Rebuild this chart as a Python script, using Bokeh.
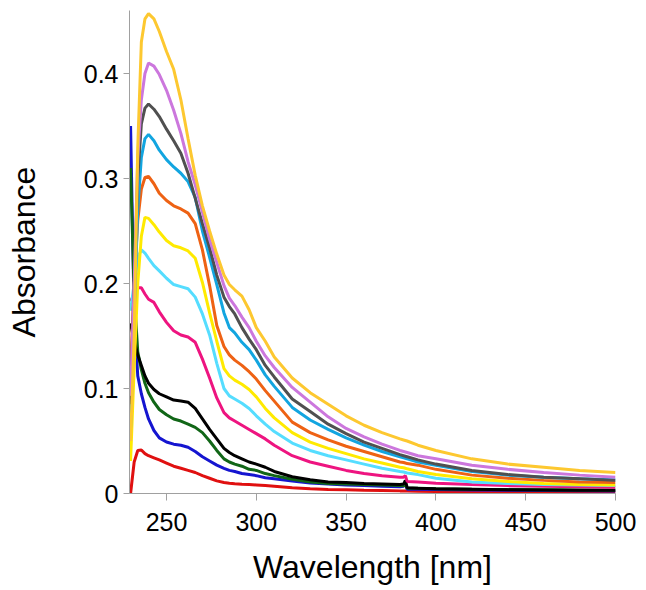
from bokeh.plotting import figure
from bokeh.models import ColumnDataSource, FixedTicker, Range1d
from bokeh.embed import file_html
from bokeh.resources import INLINE

# Wavelength grid (nm)
wavelength = [230, 232, 234, 236, 238, 240, 243, 246, 250, 254, 258, 262, 266, 270, 274, 278,
              282, 285, 288, 292, 296, 300, 305, 310, 320, 330, 340, 350, 360, 370, 380, 382,
              383, 384, 390, 400, 420, 440, 460, 480, 500]

gold = [0.05, 0.15, 0.33, 0.43, 0.452, 0.457, 0.452, 0.440, 0.421, 0.404, 0.375, 0.338, 0.303,
        0.274, 0.250, 0.228, 0.208, 0.199, 0.194, 0.188, 0.175, 0.158, 0.145, 0.130, 0.110,
        0.096, 0.085, 0.074, 0.065, 0.058, 0.052, 0.051, 0.0505, 0.050, 0.046, 0.041, 0.033,
        0.028, 0.025, 0.022, 0.020]
violet = [0.093, 0.20, 0.32, 0.375, 0.400, 0.410, 0.407, 0.399, 0.384, 0.365, 0.343, 0.316,
          0.294, 0.268, 0.242, 0.220, 0.198, 0.186, 0.179, 0.168, 0.158, 0.145, 0.131, 0.120,
          0.101, 0.087, 0.073, 0.062, 0.054, 0.047, 0.041, 0.040, 0.0395, 0.039, 0.036, 0.033,
          0.027, 0.023, 0.020, 0.0175, 0.0155]
gray = [0.085, 0.20, 0.30, 0.352, 0.367, 0.371, 0.366, 0.359, 0.347, 0.336, 0.324, 0.305,
        0.281, 0.257, 0.234, 0.208, 0.187, 0.178, 0.171, 0.158, 0.147, 0.137, 0.122, 0.111,
        0.090, 0.078, 0.066, 0.057, 0.049, 0.043, 0.037, 0.036, 0.0355, 0.035, 0.032, 0.028,
        0.022, 0.018, 0.0155, 0.014, 0.0125]
skyblue = [0.063, 0.17, 0.27, 0.32, 0.338, 0.342, 0.336, 0.327, 0.318, 0.311, 0.305, 0.297,
           0.282, 0.250, 0.225, 0.199, 0.172, 0.158, 0.153, 0.144, 0.137, 0.127, 0.113, 0.102,
           0.082, 0.070, 0.061, 0.053, 0.046, 0.040, 0.035, 0.034, 0.0335, 0.033, 0.030, 0.027,
           0.021, 0.0175, 0.0155, 0.014, 0.013]
orange = [0.12, 0.20, 0.26, 0.29, 0.301, 0.302, 0.295, 0.286, 0.279, 0.274, 0.271, 0.267,
          0.257, 0.232, 0.198, 0.160, 0.140, 0.132, 0.127, 0.122, 0.116, 0.109, 0.098, 0.088,
          0.068, 0.058, 0.051, 0.045, 0.040, 0.035, 0.030, 0.0295, 0.029, 0.0285, 0.027, 0.023,
          0.0175, 0.0145, 0.0125, 0.011, 0.0105]
yellow = [0.031, 0.12, 0.20, 0.245, 0.263, 0.262, 0.256, 0.249, 0.241, 0.236, 0.234, 0.231,
          0.224, 0.201, 0.172, 0.145, 0.119, 0.112, 0.108, 0.104, 0.099, 0.092, 0.081, 0.072,
          0.058, 0.049, 0.043, 0.038, 0.033, 0.029, 0.025, 0.0245, 0.024, 0.0235, 0.021, 0.018,
          0.014, 0.0115, 0.0095, 0.0085, 0.008]
cyan = [0.174, 0.20, 0.225, 0.232, 0.229, 0.224, 0.217, 0.212, 0.205, 0.199, 0.197, 0.195,
        0.187, 0.171, 0.151, 0.124, 0.100, 0.093, 0.090, 0.086, 0.081, 0.074, 0.066, 0.059,
        0.048, 0.041, 0.036, 0.032, 0.028, 0.024, 0.021, 0.0205, 0.020, 0.0195, 0.018, 0.0145,
        0.011, 0.0095, 0.0085, 0.008, 0.0075]
pink = [0.183, 0.19, 0.196, 0.196, 0.190, 0.185, 0.182, 0.173, 0.163, 0.155, 0.151, 0.149,
        0.144, 0.128, 0.110, 0.091, 0.077, 0.072, 0.069, 0.065, 0.061, 0.057, 0.052, 0.046,
        0.036, 0.030, 0.026, 0.022, 0.019, 0.017, 0.0155, 0.0155, 0.017, 0.0115, 0.011, 0.0098,
        0.0085, 0.0075, 0.007, 0.0065, 0.006]
black = [0.162, 0.145, 0.132, 0.122, 0.112, 0.105, 0.099, 0.095, 0.092, 0.089, 0.088, 0.087,
         0.081, 0.071, 0.061, 0.052, 0.043, 0.039, 0.036, 0.033, 0.030, 0.028, 0.025, 0.021,
         0.016, 0.013, 0.011, 0.0105, 0.0095, 0.009, 0.0085, 0.009, 0.0125, 0.0055, 0.005,
         0.0045, 0.004, 0.0035, 0.0033, 0.003, 0.003]
green = [0.31, 0.19, 0.135, 0.118, 0.105, 0.096, 0.087, 0.080, 0.075, 0.071, 0.069, 0.066,
         0.063, 0.058, 0.050, 0.041, 0.033, 0.030, 0.028, 0.026, 0.023, 0.022, 0.019, 0.017,
         0.0135, 0.011, 0.0095, 0.009, 0.0085, 0.008, 0.0075, 0.0075, 0.008, 0.005, 0.005,
         0.0045, 0.004, 0.0037, 0.0035, 0.0033, 0.003]
blue = [0.35, 0.17, 0.112, 0.095, 0.082, 0.071, 0.060, 0.053, 0.049, 0.047, 0.046, 0.044,
        0.040, 0.035, 0.031, 0.027, 0.024, 0.022, 0.021, 0.019, 0.018, 0.017, 0.015, 0.014,
        0.012, 0.010, 0.009, 0.008, 0.0075, 0.007, 0.0065, 0.007, 0.009, 0.004, 0.004,
        0.0037, 0.0033, 0.003, 0.0028, 0.0026, 0.0025]
red = [0.0, 0.03, 0.041, 0.0415, 0.038, 0.036, 0.034, 0.032, 0.029, 0.026, 0.024, 0.022,
       0.020, 0.017, 0.0145, 0.012, 0.0105, 0.0098, 0.0093, 0.0088, 0.0085, 0.0082, 0.0077,
       0.007, 0.0055, 0.0045, 0.0038, 0.0035, 0.003, 0.0028, 0.0025, 0.0025, 0.0024, 0.0023,
       0.0022, 0.002, 0.0017, 0.0015, 0.0013, 0.0012, 0.0011]

series_names = ["red", "blue", "green", "black", "pink", "cyan", "yellow", "orange",
                "skyblue", "gray", "violet", "gold"]
series_colors = ["#E01010", "#1515D0", "#116617", "#000000", "#EE1480", "#55DDFF",
                 "#FFEA00", "#EE6214", "#12A5E0", "#505050", "#CC77DD", "#FDC830"]

x_ticks = [250, 300, 350, 400, 450, 500]
y_ticks = [0, 0.1, 0.2, 0.3, 0.4]
y_tick_labels = ["0", "0.1", "0.2", "0.3", "0.4"]

source = ColumnDataSource(dict(wavelength=wavelength, gold=gold, violet=violet, gray=gray,
                               skyblue=skyblue, orange=orange, yellow=yellow, cyan=cyan,
                               pink=pink, black=black, green=green, blue=blue, red=red))

p = figure(width=640, height=589, x_range=Range1d(229.4, 500), y_range=Range1d(0, 0.46),
           output_backend="svg", toolbar_location=None,
           min_border_left=129, min_border_right=25, min_border_top=10, min_border_bottom=96)
p.outline_line_color = None
p.grid.visible = False
p.background_fill_color = "white"
p.border_fill_color = "white"

for name, col in zip(series_names, series_colors):
    p.line("wavelength", name, source=source, line_color=col, line_width=3)

FONT = "Liberation Sans"
for ax in (p.xaxis[0], p.yaxis[0]):
    ax.axis_line_color = "#A0A0A0"
    ax.axis_line_width = 1
    ax.major_tick_line_color = "#A0A0A0"
    ax.major_tick_in = 0
    ax.minor_tick_line_color = None
    ax.major_label_text_font = FONT
    ax.major_label_text_color = "black"
    ax.major_label_text_font_size = "25px"
    ax.axis_label_text_font = FONT
    ax.axis_label_text_font_style = "normal"
    ax.axis_label_text_color = "black"
    ax.axis_label_text_font_size = "32px"

p.xaxis.ticker = FixedTicker(ticks=x_ticks, minor_ticks=[])
p.yaxis.ticker = FixedTicker(ticks=y_ticks, minor_ticks=[])
p.yaxis.major_label_overrides = {t: l for t, l in zip(y_ticks, y_tick_labels)}

p.xaxis.axis_label = "Wavelength [nm]"
p.yaxis.axis_label = "Absorbance"
p.xaxis.major_tick_out = 7
p.yaxis.major_tick_out = 6
p.xaxis.major_label_standoff = 12
p.yaxis.major_label_standoff = 5
p.xaxis.axis_label_standoff = 15
p.yaxis.axis_label_standoff = 39

open("out.html", "w").write(file_html(p, INLINE))
